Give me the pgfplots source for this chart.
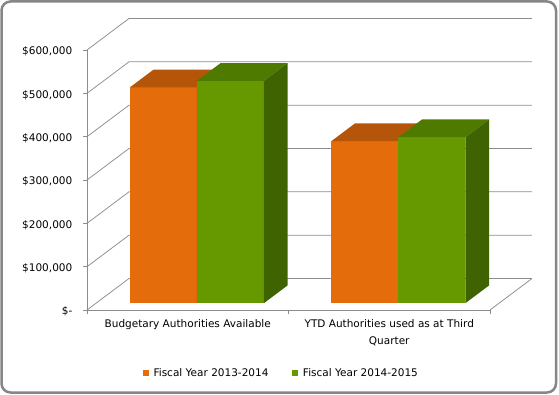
\documentclass[border=0pt]{standalone}
\usepackage{pgfplots}
\pgfplotsset{compat=1.18}
\usepackage{pgfplotstable}
\usepackage{fontspec}
\setmainfont{DejaVu Sans}

\definecolor{orF}{HTML}{E46C0A}
\definecolor{orT}{HTML}{B45509}
\definecolor{orS}{HTML}{A04B08}
\definecolor{grF}{HTML}{669900}
\definecolor{grT}{HTML}{4E7A00}
\definecolor{grS}{HTML}{3F6300}
\definecolor{gridc}{HTML}{8C8C8C}
\definecolor{framec}{HTML}{868686}

\newcommand\cf{\fontsize{10.5}{12.6}\selectfont}
\newcommand\cfl{\fontsize{10.5}{17}\selectfont}

% values in thousands of dollars
\pgfplotstableread{
x   fyA  fyB
0.5 498  513
1.5 374  383
}\data

\def\DX{0.2084}
\def\DY{72.69}
\def\fA{0.22}
\def\fB{0.78}
\def\BW{0.3325}

\newcommand\barbox[6]{%
 \pgfmathsetmacro\xa{#1+\fA*\DX}%
 \pgfmathsetmacro\xb{#2+\fA*\DX}%
 \pgfmathsetmacro\xc{#1+\fB*\DX}%
 \pgfmathsetmacro\xd{#2+\fB*\DX}%
 \pgfmathsetmacro\ya{\fA*\DY}%
 \pgfmathsetmacro\yb{#3+\fA*\DY}%
 \pgfmathsetmacro\yc{\fB*\DY}%
 \pgfmathsetmacro\yd{#3+\fB*\DY}%
 \edef\temp{%
 \noexpand\addplot[fill=#4,draw=none,forget plot] coordinates {(\xa,\ya) (\xb,\ya) (\xb,\yb) (\xa,\yb)} -- cycle;
 \noexpand\addplot[fill=#5,draw=none,forget plot] coordinates {(\xa,\yb) (\xb,\yb) (\xd,\yd) (\xc,\yd)} -- cycle;
 \noexpand\addplot[fill=#6,draw=none,forget plot] coordinates {(\xb,\ya) (\xd,\yc) (\xd,\yd) (\xb,\yb)} -- cycle;
 }\temp
}

\newcommand\wall[1]{%
 \pgfmathsetmacro\yy{#1+\DY}%
 \pgfmathsetmacro\xr{2+\DX}%
 \edef\temp{%
 \noexpand\addplot[gridc,line width=0.75pt,forget plot] coordinates {(0,#1) (\DX,\yy) (\xr,\yy)};
 }\temp
}

\begin{document}
\cf
\begin{tikzpicture}
\path[use as bounding box] (0pt,0pt) rectangle (559pt,-395pt);
\draw[framec, line width=2.5pt, rounded corners=9pt] (1.5pt,-1.5pt) rectangle (556pt,-392.5pt);

\pgfplotstablegetelem{0}{fyA}\of\data \let\vAa\pgfplotsretval
\pgfplotstablegetelem{0}{fyB}\of\data \let\vBa\pgfplotsretval
\pgfplotstablegetelem{1}{fyA}\of\data \let\vAb\pgfplotsretval
\pgfplotstablegetelem{1}{fyB}\of\data \let\vBb\pgfplotsretval

\begin{axis}[
  at={(87pt,-310pt)}, anchor=south west,
  scale only axis, width=403pt, height=260pt,
  xmin=0, xmax=2, ymin=0, ymax=600, clip=false,
  axis lines*=left,
  axis line style={gridc, line width=0.75pt},
  tick align=outside, major tick length=4pt,
  tick style={gridc, line width=0.75pt},
  xtick={0,1,2}, xticklabels={},
  extra x ticks={0.5,1.5},
  extra x tick labels={Budgetary Authorities Available, {YTD Authorities used as at Third\\Quarter}},
  extra x tick style={major tick length=0pt, xticklabel style={align=center, font=\cfl, yshift=-6pt}},
  ytick={0,100,200,300,400,500,600},
  yticklabels={{\$-},{\$100,000},{\$200,000},{\$300,000},{\$400,000},{\$500,000},{\$600,000}},
  yticklabel style={font=\cf, xshift=-7pt, yshift=-1.5pt},
  legend image code/.code={\fill[#1] (0pt,-3pt) rectangle (6pt,3pt); \path (8.5pt,0pt);},
  legend style={at={(0.4826,-0.242)}, anchor=center, draw=none, fill=none,
    legend columns=2, font=\cf, inner sep=0pt,
    /tikz/every even column/.append style={column sep=22pt}},
]
\wall{0}\wall{100}\wall{200}\wall{300}\wall{400}\wall{500}\wall{600}
\pgfmathsetmacro\xr{2+\DX}
\edef\temp{\noexpand\addplot[gridc,line width=0.75pt,forget plot] coordinates {(2,0) (\xr,\DY)};}\temp

\barbox{0.1675}{0.5}{\vAa}{orF}{orT}{orS}
\barbox{0.5}{0.8325}{\vBa}{grF}{grT}{grS}
\barbox{1.1675}{1.5}{\vAb}{orF}{orT}{orS}
\barbox{1.5}{1.8325}{\vBb}{grF}{grT}{grS}

\addlegendimage{fill=orF, draw=none}
\addlegendentry{Fiscal Year 2013-2014}
\addlegendimage{fill=grF, draw=none}
\addlegendentry{Fiscal Year 2014-2015}
\end{axis}
\end{tikzpicture}
\end{document}
